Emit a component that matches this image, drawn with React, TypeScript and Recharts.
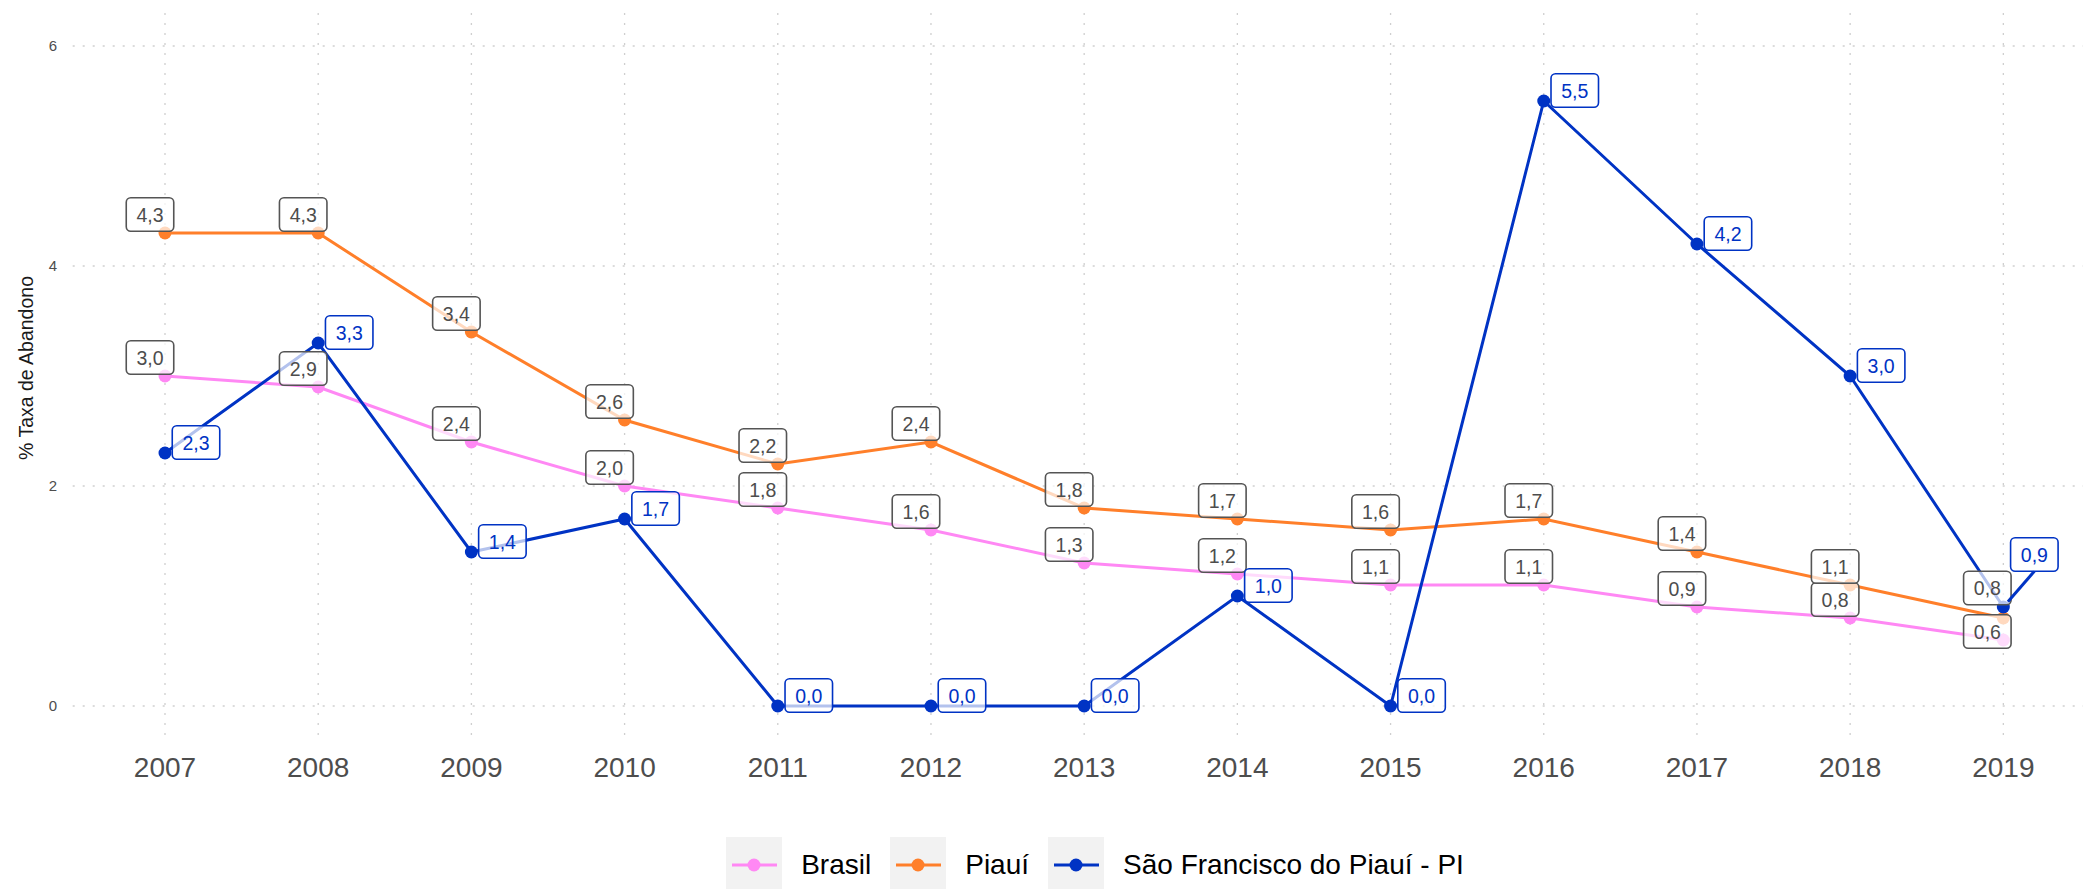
import React from 'react';
import { LineChart, Line, XAxis, YAxis, CartesianGrid, LabelList } from 'recharts';

const YEARS = [2007, 2008, 2009, 2010, 2011, 2012, 2013, 2014, 2015, 2016, 2017, 2018, 2019];
const BRASIL = [3.0, 2.9, 2.4, 2.0, 1.8, 1.6, 1.3, 1.2, 1.1, 1.1, 0.9, 0.8, 0.6];
const PIAUI = [4.3, 4.3, 3.4, 2.6, 2.2, 2.4, 1.8, 1.7, 1.6, 1.7, 1.4, 1.1, 0.8];
const SAO_FRANCISCO = [2.3, 3.3, 1.4, 1.7, 0.0, 0.0, 0.0, 1.0, 0.0, 5.5, 4.2, 3.0, 0.9];
const Y_TICKS = [0, 2, 4, 6];

const SERIES = [
  { key: 'brasil', name: 'Brasil', color: '#FF88F4', labelColor: '#4d4d4d', borderColor: '#555555' },
  { key: 'piaui', name: 'Piauí', color: '#FF7F2A', labelColor: '#4d4d4d', borderColor: '#555555' },
  { key: 'sf', name: 'São Francisco do Piauí - PI', color: '#0033C4', labelColor: '#0033C4', borderColor: '#0033C4' },
];

// label nudges (pixels, relative to point): default per series, exceptions by year
const LABEL_NUDGE: Record<string, { dx: number; dy: number; seg?: boolean }> = {
  brasil: { dx: -15, dy: -18.5 },
  piaui: { dx: -15, dy: -18.5 },
  sf: { dx: 31, dy: -10.5 },
};
const LABEL_NUDGE_EXCEPTIONS: Record<string, Record<number, { dx: number; dy: number; seg?: boolean }>> = {
  brasil: { 2019: { dx: -16, dy: -8.5 } },
  piaui: { 2019: { dx: -16, dy: -30 } },
  sf: { 2019: { dx: 31, dy: -52.5, seg: true } },
};

const data = YEARS.map((year, i) => ({
  year,
  brasil: BRASIL[i],
  piaui: PIAUI[i],
  sf: SAO_FRANCISCO[i],
}));

const FONT = '"Liberation Sans", Arial, Helvetica, sans-serif';
const fmt = (v: number) => v.toFixed(1).replace('.', ',');

const BoxLabel = (props: any, s: (typeof SERIES)[number]) => {
  const { x, y, value, index } = props;
  if (x == null || y == null || value == null) return null;
  const year = YEARS[index];
  const nudge = (LABEL_NUDGE_EXCEPTIONS[s.key] || {})[year] || LABEL_NUDGE[s.key];
  const cx = x + nudge.dx;
  const cy = y + nudge.dy;
  const w = 47.5;
  const h = 33.5;
  let seg = null;
  if (nudge.seg) {
    const tx = cx;
    const ty = cy + h / 2;
    const dx = tx - x;
    const dy = ty - y;
    const len = Math.sqrt(dx * dx + dy * dy);
    seg = (
      <line
        x1={x + (dx / len) * 7}
        y1={y + (dy / len) * 7}
        x2={tx}
        y2={ty}
        stroke={s.color}
        strokeWidth={3}
      />
    );
  }
  return (
    <g>
      {seg}
      <rect
        x={cx - w / 2}
        y={cy - h / 2}
        width={w}
        height={h}
        rx={4.5}
        ry={4.5}
        fill="#ffffff"
        fillOpacity={0.7}
        stroke={s.borderColor}
        strokeWidth={1.6}
      />
      <text
        x={cx}
        y={cy}
        textAnchor="middle"
        dominantBaseline="central"
        fontFamily={FONT}
        fontSize={19.5}
        fill={s.labelColor}
      >
        {fmt(value)}
      </text>
    </g>
  );
};

const YTitle = () => (
  <text
    x={26}
    y={368}
    transform="rotate(-90 26 368)"
    textAnchor="middle"
    dominantBaseline="central"
    fontFamily={FONT}
    fontSize={19.5}
    fill="#1a1a1a"
  >
    % Taxa de Abandono
  </text>
);

const LegendBox = () => (
  <div
    style={{
      position: 'absolute',
      top: 837,
      left: 725.7,
      height: 52,
      display: 'flex',
      alignItems: 'center',
      fontFamily: FONT,
      fontSize: 28,
      color: '#000',
    }}
  >
    {SERIES.map((s) => (
      <div key={s.key} style={{ display: 'flex', alignItems: 'center', marginRight: 18.5 }}>
        <svg width={56} height={52} style={{ display: 'block' }}>
          <rect x={0} y={0} width={56} height={52} fill="#f2f2f2" />
          <line x1={6} y1={28} x2={51} y2={28} stroke={s.color} strokeWidth={3} />
          <circle cx={28} cy={28} r={6.5} fill={s.color} />
        </svg>
        <span style={{ marginLeft: 19.5, lineHeight: '52px', position: 'relative', top: 2 }}>{s.name}</span>
      </div>
    ))}
  </div>
);

export default function App() {
  return (
    <div
      style={{
        position: 'absolute',
        left: 0,
        top: 0,
        width: 2083,
        height: 889,
        overflow: 'hidden',
        background: '#ffffff',
      }}
    >
      <LineChart
        width={2083}
        height={889}
        data={data}
        margin={{ top: 13, right: 0, bottom: 100, left: 0 }}
      >
        <CartesianGrid
          stroke="#cfcfcf"
          strokeWidth={1.3}
          strokeDasharray="2 8"
          horizontalValues={Y_TICKS}
          verticalValues={YEARS}
        />
        <XAxis
          dataKey="year"
          type="number"
          domain={[2006.3975, 2019.52]}
          allowDataOverflow
          ticks={YEARS}
          interval={0}
          height={50}
          axisLine={false}
          tickLine={false}
          tickSize={0}
          tickMargin={18}
          tick={{ fontSize: 28, fill: '#4d4d4d', fontFamily: FONT }}
        />
        <YAxis
          type="number"
          domain={[-0.3, 6.3]}
          allowDataOverflow
          ticks={Y_TICKS}
          interval={0}
          width={72.7}
          axisLine={false}
          tickLine={false}
          tickSize={0}
          tickMargin={15.7}
          tick={{ fontSize: 15, fill: '#4d4d4d', fontFamily: FONT }}
          label={{ content: () => <YTitle /> }}
        />
        {SERIES.map((s) => (
          <Line
            key={s.key}
            dataKey={s.key}
            name={s.name}
            stroke={s.color}
            strokeWidth={3}
            dot={{ r: 6.5, fill: s.color, stroke: s.color, strokeWidth: 0 }}
            activeDot={false}
            isAnimationActive={false}
          />
        ))}
        {SERIES.map((s) => (
          <Line
            key={s.key + '-labels'}
            dataKey={s.key}
            stroke="none"
            dot={false}
            activeDot={false}
            legendType="none"
            isAnimationActive={false}
          >
            <LabelList dataKey={s.key} content={(p: any) => BoxLabel(p, s)} />
          </Line>
        ))}
      </LineChart>
      <LegendBox />
    </div>
  );
}
